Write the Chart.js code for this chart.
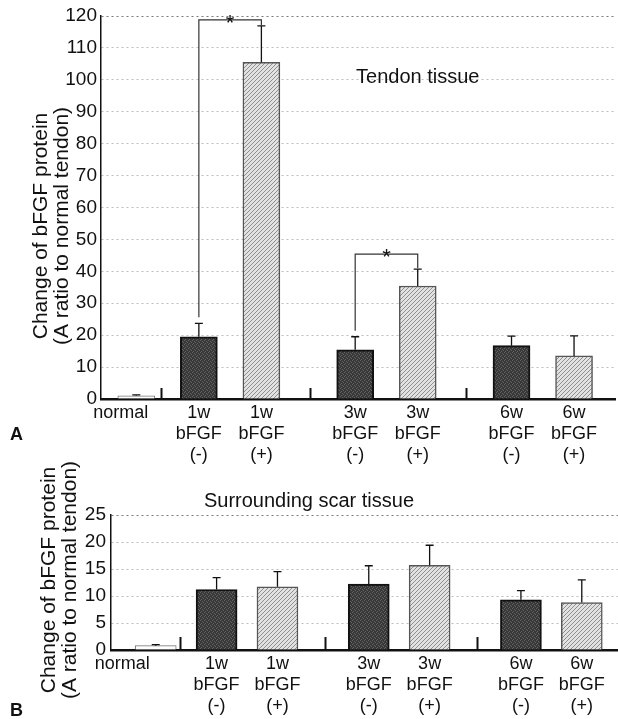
<!DOCTYPE html>
<html>
<head>
<meta charset="utf-8">
<script src="https://cdn.jsdelivr.net/npm/chart.js@4.4.1/dist/chart.umd.min.js"></script>
<style>
  body { margin: 0; background: #fff; }
  .panel { position: absolute; left: 0; width: 618px; }
  #panelA { top: 0; height: 470px; }
  #panelB { top: 440px; height: 279px; }
</style>
</head>
<body>
<div class="panel" id="panelA"><canvas id="chartA" width="618" height="470"></canvas></div>
<div class="panel" id="panelB"><canvas id="chartB" width="618" height="279"></canvas></div>
<script>
// ---- data ----
const categories = [
  'normal',
  ['1w', 'bFGF', '(-)'], ['1w', 'bFGF', '(+)'],
  ['3w', 'bFGF', '(-)'], ['3w', 'bFGF', '(+)'],
  ['6w', 'bFGF', '(-)'], ['6w', 'bFGF', '(+)']
];
const yTitle = ['Change of bFGF protein', '(A ratio to normal tendon)'];

// A: tendon tissue
const tendonValues = [1.0, 19.5, 105.5, 15.4, 35.4, 16.7, 13.5];
const tendonErrors = [0.3, 4.2, 11.4, 4.1, 5.3, 3.0, 6.3];
const tendonTicks = [0, 10, 20, 30, 40, 50, 60, 70, 80, 90, 100, 110, 120];
const tendonSigPairs = [[1, 2], [3, 4]];
const tendonSigLevels = [118.8, 45.4];

// B: surrounding scar tissue
const scarValues = [0.8, 11.2, 11.7, 12.2, 15.7, 9.3, 8.8];
const scarErrors = [0.2, 2.2, 2.8, 3.4, 3.7, 1.7, 4.2];
const scarTicks = [0, 5, 10, 15, 20, 25];

// ---- layout ----
// bars are placed on a linear x axis so the gaps between week groups can be wider
const slots = [0, 2, 4, 7, 9, 12, 14];
const separators = [0.8, 5.55, 10.55];
const FONT = '"Liberation Sans", Arial, Helvetica, sans-serif';
Chart.defaults.font.family = FONT;
Chart.defaults.color = '#111';

function makePattern(bg, fg, dots) {
  const c = document.createElement('canvas');
  c.width = 4; c.height = 4;
  const g = c.getContext('2d');
  g.fillStyle = bg;
  g.fillRect(0, 0, 4, 4);
  g.fillStyle = fg;
  dots.forEach(d => g.fillRect(d[0], d[1], 1, 1));
  return g.createPattern(c, 'repeat');
}
const darkFill = makePattern('#383838', '#646464', [[0, 0], [2, 1], [1, 3], [3, 2]]);
const lightFill = makePattern('#e2e2e2', '#8e8e8e', [[0, 3], [1, 2], [2, 1], [3, 0]]);

const isNormal = c => c === 'normal';
const isMinus = c => Array.isArray(c) && c[2] === '(-)';
const fills = categories.map(c => isNormal(c) ? '#ffffff' : isMinus(c) ? darkFill : lightFill);
const edges = categories.map(c => isNormal(c) ? '#777' : isMinus(c) ? '#111' : '#555');
const edgeWidths = categories.map(c => isNormal(c) ? 1 : isMinus(c) ? 2 : 1.5);

function figurePlugin(cfg) {
  return {
    id: 'figure',
    afterDatasetsDraw(chart) {
      const { ctx } = chart;
      const x = chart.scales.x, y = chart.scales.y;
      const bars = chart.getDatasetMeta(0).data;
      ctx.save();
      // small group separators sitting on the axis
      ctx.strokeStyle = '#111';
      ctx.lineWidth = 2;
      separators.forEach(s => {
        const px = Math.round(x.getPixelForValue(s)) + 0.5;
        ctx.beginPath();
        ctx.moveTo(px, y.bottom);
        ctx.lineTo(px, y.bottom - cfg.sepHeight);
        ctx.stroke();
      });
      // error bars (upper only)
      ctx.lineWidth = 1.3;
      const errTop = i => y.getPixelForValue(cfg.values[i] + cfg.errors[i]);
      bars.forEach((bar, i) => {
        const top = errTop(i);
        ctx.beginPath();
        ctx.moveTo(bar.x, bar.y);
        ctx.lineTo(bar.x, top);
        ctx.moveTo(bar.x - 4, top);
        ctx.lineTo(bar.x + 4, top);
        ctx.stroke();
      });
      // significance brackets
      (cfg.sigPairs || []).forEach((p, k) => {
        const ly = y.getPixelForValue(cfg.sigLevels[k]);
        const x1 = bars[p[0]].x, x2 = bars[p[1]].x;
        ctx.strokeStyle = '#333';
        ctx.lineWidth = 1.2;
        ctx.beginPath();
        ctx.moveTo(x1, errTop(p[0]) - 6);
        ctx.lineTo(x1, ly);
        ctx.lineTo(x2, ly);
        ctx.lineTo(x2, errTop(p[1]) - 1);
        ctx.stroke();
        ctx.fillStyle = '#111';
        ctx.font = '22px ' + FONT;
        ctx.textAlign = 'center';
        ctx.textBaseline = 'alphabetic';
        ctx.fillText('*', (x1 + x2) / 2, ly + 10);
      });
      ctx.restore();
    },
    afterDraw(chart) {
      const { ctx } = chart;
      ctx.save();
      ctx.fillStyle = '#111';
      // y axis title
      ctx.translate(cfg.titleX, cfg.titleY);
      ctx.rotate(-Math.PI / 2);
      ctx.font = '21px ' + FONT;
      ctx.textAlign = 'center';
      ctx.textBaseline = 'middle';
      yTitle.forEach((t, i) => ctx.fillText(t, 0, i * 21));
      ctx.restore();
      ctx.save();
      ctx.fillStyle = '#111';
      // panel letter
      ctx.font = 'bold 18px ' + FONT;
      ctx.textAlign = 'left';
      ctx.textBaseline = 'middle';
      ctx.fillText(cfg.letter, 10, cfg.letterY);
      // note inside the plot
      if (cfg.note) {
        ctx.font = '20px ' + FONT;
        ctx.textAlign = 'center';
        ctx.fillText(cfg.note.text,
          chart.scales.x.getPixelForValue(cfg.note.x),
          chart.scales.y.getPixelForValue(cfg.note.y));
      }
      ctx.restore();
    }
  };
}

function buildChart(id, cfg) {
  const labelSlots = slots.map((s, i) => i === 0 ? cfg.normalLabelSlot : s);
  return new Chart(document.getElementById(id), {
    type: 'bar',
    data: {
      datasets: [{
        data: cfg.values.map((v, i) => ({ x: slots[i], y: v })),
        backgroundColor: fills,
        borderColor: edges,
        borderWidth: edgeWidths,
        borderSkipped: 'start',
        barThickness: cfg.barWidth
      }]
    },
    options: {
      responsive: false,
      animation: false,
      events: [],
      layout: { padding: { top: cfg.padTop, right: cfg.padRight, left: 0, bottom: 0 } },
      plugins: {
        legend: { display: false },
        tooltip: { enabled: false },
        title: cfg.title ? {
          display: true,
          text: cfg.title,
          color: '#111',
          font: { size: 20, weight: 'normal' },
          padding: { top: cfg.titleTop, bottom: 2 }
        } : { display: false }
      },
      scales: {
        x: {
          type: 'linear',
          offset: false,
          bounds: 'data',
          min: cfg.xMin,
          max: cfg.xMax,
          afterBuildTicks: s => { s.ticks = labelSlots.map(v => ({ value: v })); },
          afterFit: s => { s.height = cfg.xHeight; },
          grid: { display: false, drawTicks: false, offset: false },
          border: { color: '#111', width: 2.5 },
          ticks: {
            autoSkip: false,
            maxRotation: 0,
            padding: 3,
            color: '#111',
            font: { size: 18, lineHeight: 1.18 },
            callback: (v, i) => categories[i]
          }
        },
        y: {
          min: 0,
          max: cfg.ticks[cfg.ticks.length - 1],
          afterBuildTicks: s => { s.ticks = cfg.ticks.map(v => ({ value: v })); },
          afterFit: s => { s.width = cfg.yWidth; },
          grid: {
            drawTicks: false,
            lineWidth: 1,
            color: c => c.tick && c.tick.value === cfg.ticks[cfg.ticks.length - 1] ? '#7a7a7a' : '#bdbdbd'
          },
          border: { color: '#111', width: 1.5, dash: [2, 3] },
          ticks: { padding: cfg.yPad, color: '#111', font: { size: 19 } }
        }
      }
    },
    plugins: [figurePlugin(cfg)]
  });
}

buildChart('chartA', {
  values: tendonValues, errors: tendonErrors, ticks: tendonTicks,
  sigPairs: tendonSigPairs, sigLevels: tendonSigLevels,
  barWidth: 37, xMin: -1.13, xMax: 15.31, normalLabelSlot: -0.5,
  padTop: 16, padRight: 3, yWidth: 101, xHeight: 71, yPad: 4,
  sepHeight: 11, titleX: 41, titleY: 226, letter: 'A', letterY: 435,
  note: { text: 'Tendon tissue', x: 9, y: 100.6 }
});

buildChart('chartB', {
  values: scarValues, errors: scarErrors, ticks: scarTicks,
  title: 'Surrounding scar tissue', titleTop: 49,
  barWidth: 41, xMin: -1.47, xMax: 15.19, normalLabelSlot: -1.1,
  padTop: 0, padRight: 0, yWidth: 111, xHeight: 69, yPad: 5,
  sepHeight: 13, titleX: 49, titleY: 140, letter: 'B', letterY: 271
});
</script>
</body>
</html>
